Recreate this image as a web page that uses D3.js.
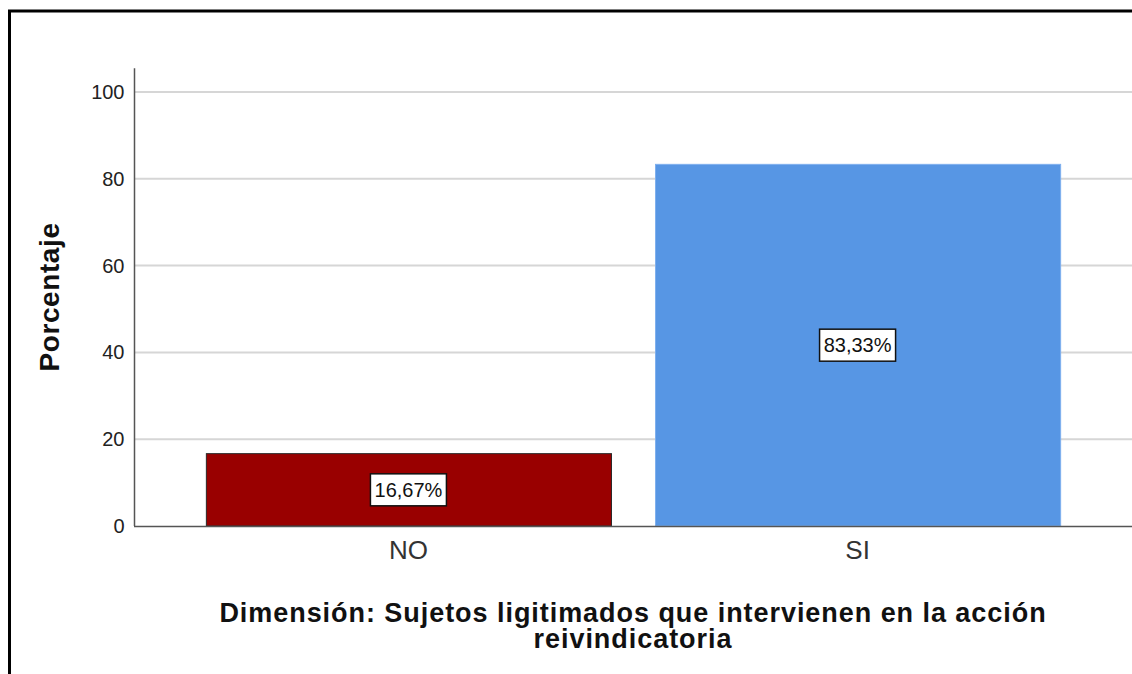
<!DOCTYPE html>
<html>
<head>
<meta charset="utf-8">
<script src="https://cdn.jsdelivr.net/npm/d3@7"></script>
<style>
  body { margin: 0; background: #fff; }
  svg { display: block; font-family: Arial, "Liberation Sans", sans-serif; }
</style>
</head>
<body>
<div id="chart"></div>
<script>
// data
const categories = ['NO', 'SI'];
const percents = [16.67, 83.33];
const barLabels = ['16,67%', '83,33%'];
const barColors = ['#990000', '#5796e4'];
const yTicks = [0, 20, 40, 60, 80, 100];
const yTitle = 'Porcentaje';
const xTitleLines = ['Dimensión: Sujetos ligitimados que intervienen en la acción', 'reivindicatoria'];

const width = 1132, height = 674;

const svg = d3.select('#chart').append('svg')
  .attr('width', width)
  .attr('height', height);

// frame (top and left only, the rest is cut off)
svg.append('path')
  .attr('d', `M9.5,${height} V11 H${width}`)
  .attr('fill', 'none')
  .attr('stroke', '#000')
  .attr('stroke-width', 3);

const x = d3.scaleBand().domain(categories).range([134, 1132])
  .paddingInner(0.098).paddingOuter(0.16);
const y = d3.scaleLinear().domain([0, 100]).range([526, 92]);

// gridlines
svg.append('g').selectAll('line')
  .data(yTicks.filter(d => d > 0))
  .enter().append('line')
  .attr('x1', 135).attr('x2', width)
  .attr('y1', d => y(d)).attr('y2', d => y(d))
  .attr('stroke', '#d6d6d6')
  .attr('stroke-width', 2);

// bars
const data = categories.map((c, i) => ({ cat: c, val: percents[i], label: barLabels[i], color: barColors[i] }));

svg.append('g').selectAll('rect')
  .data(data)
  .enter().append('rect')
  .attr('x', d => x(d.cat) + 0.5)
  .attr('y', d => y(d.val))
  .attr('width', x.bandwidth())
  .attr('height', d => y(0) - y(d.val))
  .attr('fill', d => d.color)
  .attr('stroke', (d, i) => i === 0 ? '#2a2a2a' : '#7fb0ee')
  .attr('stroke-width', 1);

// y axis
const yAxis = d3.axisLeft(y).tickValues(yTicks).tickSize(0).tickPadding(10);
const gy = svg.append('g').attr('transform', 'translate(134.5,0)').call(yAxis);
gy.select('.domain').remove();
gy.selectAll('text')
  .attr('font-size', 20)
  .attr('fill', '#222')
  .attr('font-family', 'Arial, "Liberation Sans", sans-serif');
svg.append('line')
  .attr('x1', 134.5).attr('x2', 134.5)
  .attr('y1', y(105.5)).attr('y2', y(0))
  .attr('stroke', '#555').attr('stroke-width', 1.5);
svg.append('line')
  .attr('x1', 134).attr('x2', width)
  .attr('y1', y(0) + 0.5).attr('y2', y(0) + 0.5)
  .attr('stroke', '#555').attr('stroke-width', 1.5);

// x axis labels
const xAxis = d3.axisBottom(x).tickSize(0).tickPadding(15);
const gx = svg.append('g').attr('transform', `translate(0,${y(0)})`).call(xAxis);
gx.select('.domain').remove();
gx.selectAll('text')
  .attr('font-size', 26)
  .attr('fill', '#333')
  .attr('font-family', 'Arial, "Liberation Sans", sans-serif');

// value labels in boxes
const lab = svg.append('g').selectAll('g')
  .data(data)
  .enter().append('g')
  .attr('transform', d => `translate(${x(d.cat) + x.bandwidth() / 2},${y(d.val / 2)})`);
lab.append('rect')
  .attr('x', -38).attr('y', -16)
  .attr('width', 76).attr('height', 32)
  .attr('fill', '#fff')
  .attr('stroke', '#111')
  .attr('stroke-width', 1.5);
lab.append('text')
  .attr('text-anchor', 'middle')
  .attr('dy', '0.36em')
  .attr('font-size', 20)
  .attr('fill', '#111')
  .text(d => d.label);

// axis titles
svg.append('text')
  .attr('transform', 'translate(59,297) rotate(-90)')
  .attr('text-anchor', 'middle')
  .attr('font-size', 28)
  .attr('letter-spacing', 0.6)
  .attr('font-weight', 'bold')
  .attr('fill', '#111')
  .text(yTitle);

svg.append('text')
  .attr('text-anchor', 'middle')
  .attr('font-size', 27)
  .attr('letter-spacing', 0.95)
  .attr('font-weight', 'bold')
  .attr('fill', '#111')
  .selectAll('tspan')
  .data(xTitleLines)
  .enter().append('tspan')
  .attr('x', 633)
  .attr('y', (d, i) => 622 + i * 26)
  .text(d => d);
</script>
</body>
</html>
